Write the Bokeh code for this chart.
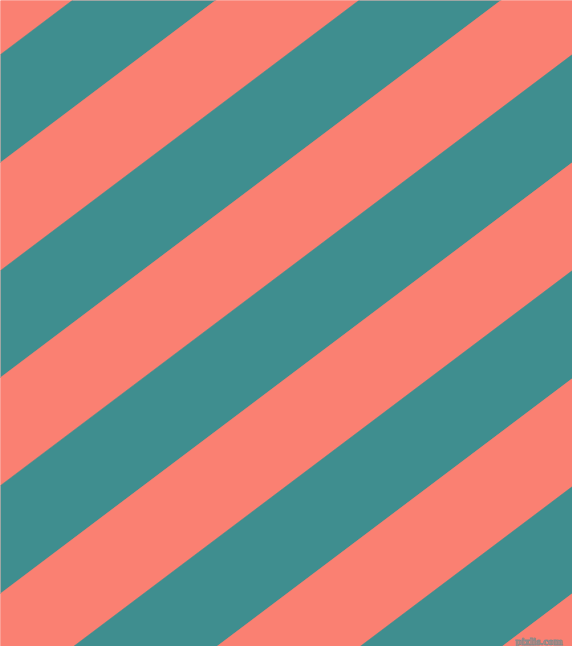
from bokeh.plotting import figure
from bokeh.models import Range1d, ColumnDataSource
from bokeh.embed import file_html
from bokeh.resources import INLINE
from bokeh.core.properties import value

# Stripe boundaries, measured as c = y + slope * x (image pixels, y downward)
stripe_edges = [-54, 54, 162, 270, 377, 485, 593, 701, 809, 917, 1024, 1132]
stripe_colors = ["#FA8072", "#3F8E8F"]
slope = 0.7536  # tan(37 deg)
image_w, image_h = 572, 646
watermark = "pixlis.com"

xs, ys, cols = [], [], []
x0, x1 = -20, image_w + 20
for i in range(len(stripe_edges) - 1):
    c1, c2 = stripe_edges[i], stripe_edges[i + 1]
    xs.append([x0, x1, x1, x0])
    ys.append([c1 - slope * x0, c1 - slope * x1, c2 - slope * x1, c2 - slope * x0])
    cols.append(stripe_colors[i % 2])

src = ColumnDataSource(dict(xs=xs, ys=ys, color=cols))

p = figure(width=image_w, height=image_h,
           output_backend="svg", toolbar_location=None,
           x_range=Range1d(0, image_w),
           y_range=Range1d(image_h, 0),
           min_border=0)
p.axis.visible = False
p.grid.visible = False
p.outline_line_color = None
p.background_fill_color = "#FA8072"
p.border_fill_color = "#FFFFFF"

p.patches("xs", "ys", source=src, fill_color="color", line_color="color", line_width=0.5)

p.text(x=[562], y=[640], text=[watermark],
       text_font=value("Liberation Sans Narrow"), text_font_size="11px", text_font_style="bold",
       text_color="#D88276", text_outline_color="#8A8A8A",
       text_align="right", text_baseline="alphabetic")

open("out.html", "w").write(file_html(p, INLINE))
